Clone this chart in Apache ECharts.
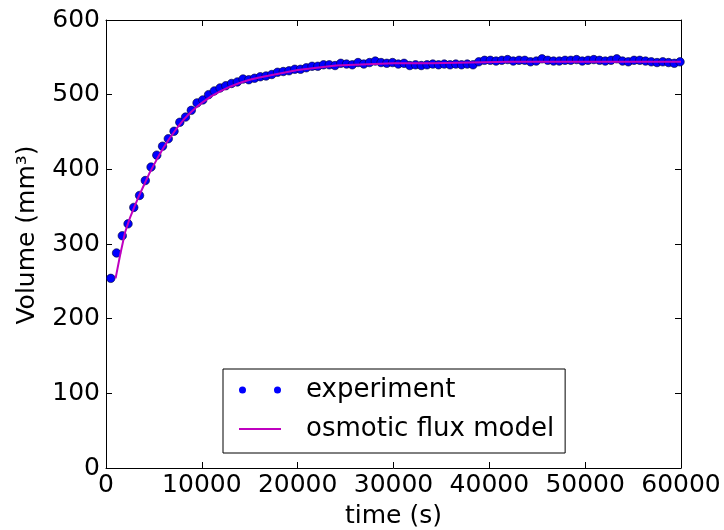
<!DOCTYPE html>
<html><head><meta charset="utf-8">
<script src="https://cdn.jsdelivr.net/npm/echarts@6/dist/echarts.min.js"></script>
<style>html,body{margin:0;padding:0;background:#fff}#c{width:724px;height:530px}</style>
</head><body><div id="c"></div>
<script>
// Experiment: sample times (s) and volumes (mm^3)
const expTime = [];
for (let k = 0; k < 100; k++) expTime.push(500 + 600 * k);
const expVolume = [
254,288,311,327,349,365,385,403,419,431,
441,451,463,470,479,489,493,500,505,509,
512,515,517,521,520,522,524,525,527,530,
531,532,534,534,536,538,538,540,540,539,
542,541,540,543,541,543,545,543,542,543,
541,542,539,540,539,540,541,540,541,540,
541,540,541,540,544,546,546,545,546,547,
545,546,546,544,545,548,546,545,545,546,
546,547,545,546,547,546,545,546,548,545,
544,546,546,545,544,543,544,543,542,544
];
// Osmotic flux model
const modelTime = [1000,1500,2000,2500,3000,3500,4000,4500,5000,5500,6000,6500,7000,7500,8000,8500,9000,9500,10000,11000,12000,13000,14000,15000,16000,18000,20000,22000,24000,26000,28000,30000,34000,38000,42000,46000,50000,55000,60000];
const modelVolume = [254,287,316,335,351,366,380,394,406,418,429,439,448,457,465,472,478,484,489,498,505,511,516,520,523,528,533,536,539,540,541,542,542,543,544,544,544,544,544];

const xTicks = [0,10000,20000,30000,40000,50000,60000];
const yTicks = [0,100,200,300,400,500,600];

const expData = expTime.map((t,i)=>[t,expVolume[i]]);
const modelData = modelTime.map((t,i)=>[t,modelVolume[i]]);

const font = 'DejaVu Sans';
const fs = 25;
const chart = echarts.init(document.getElementById('c'), null, {renderer:'canvas'});
const axisCommon = {
  axisLine:{show:true,onZero:false,lineStyle:{color:'#000',width:1}},
  axisTick:{show:true,inside:true,length:6,lineStyle:{color:'#000'}},
  splitLine:{show:false}
};
chart.setOption({
  animation:false,
  backgroundColor:'#fff',
  grid:{left:106,right:43,top:20,bottom:62,containLabel:false,outerBoundsMode:'none'},
  xAxis:[
    Object.assign({type:'value',min:xTicks[0],max:xTicks[xTicks.length-1],interval:xTicks[1]-xTicks[0],position:'bottom',
      name:'time (s)',nameLocation:'middle',nameGap:36,
      nameTextStyle:{fontFamily:font,fontSize:fs,color:'#000'},
      axisLabel:{fontFamily:font,fontSize:fs,color:'#000',margin:5,formatter:v=>String(v)}},axisCommon),
    Object.assign({type:'value',min:xTicks[0],max:xTicks[xTicks.length-1],interval:xTicks[1]-xTicks[0],position:'top',
      axisLabel:{show:false}},axisCommon)
  ],
  yAxis:[
    Object.assign({type:'value',min:yTicks[0],max:yTicks[yTicks.length-1],interval:yTicks[1]-yTicks[0],position:'left',
      name:'Volume (mm³)',nameLocation:'middle',nameGap:66,
      nameTextStyle:{fontFamily:font,fontSize:fs,color:'#000',padding:[0,0,0,18]},
      axisLabel:{fontFamily:font,fontSize:fs,color:'#000',margin:6}},axisCommon),
    Object.assign({type:'value',min:yTicks[0],max:yTicks[yTicks.length-1],interval:yTicks[1]-yTicks[0],position:'right',
      axisLabel:{show:false}},axisCommon)
  ],
  legend:{
    orient:'vertical',left:223,top:369,
    backgroundColor:'#fff',borderColor:'#000',borderWidth:1,borderRadius:0,
    padding:[8,11,11,16],itemGap:13,itemWidth:42,itemHeight:10,
    textStyle:{fontFamily:font,fontSize:26,color:'#000',padding:[0,0,0,20]},
    data:[
      {name:'experiment',icon:'path://M0,5a3.5,3.5 0 1,0 7,0a3.5,3.5 0 1,0 -7,0M35,5a3.5,3.5 0 1,0 7,0a3.5,3.5 0 1,0 -7,0',
        itemStyle:{color:'#0000ff',borderWidth:0}},
      {name:'osmotic flux model',icon:'path://M0,0L42,0L42,2.2L0,2.2Z',itemStyle:{color:'#bf00bf',borderWidth:0}}
    ]
  },
  series:[
    {name:'experiment',type:'scatter',data:expData,symbol:'circle',symbolSize:8.5,
      itemStyle:{color:'#0000ff',opacity:1,borderColor:'#000030',borderWidth:0.6},z:2},
    {name:'osmotic flux model',type:'line',data:modelData,showSymbol:false,symbol:'none',smooth:false,
      lineStyle:{color:'#bf00bf',width:2},itemStyle:{color:'#bf00bf'},z:3}
  ]
});
</script></body></html>
